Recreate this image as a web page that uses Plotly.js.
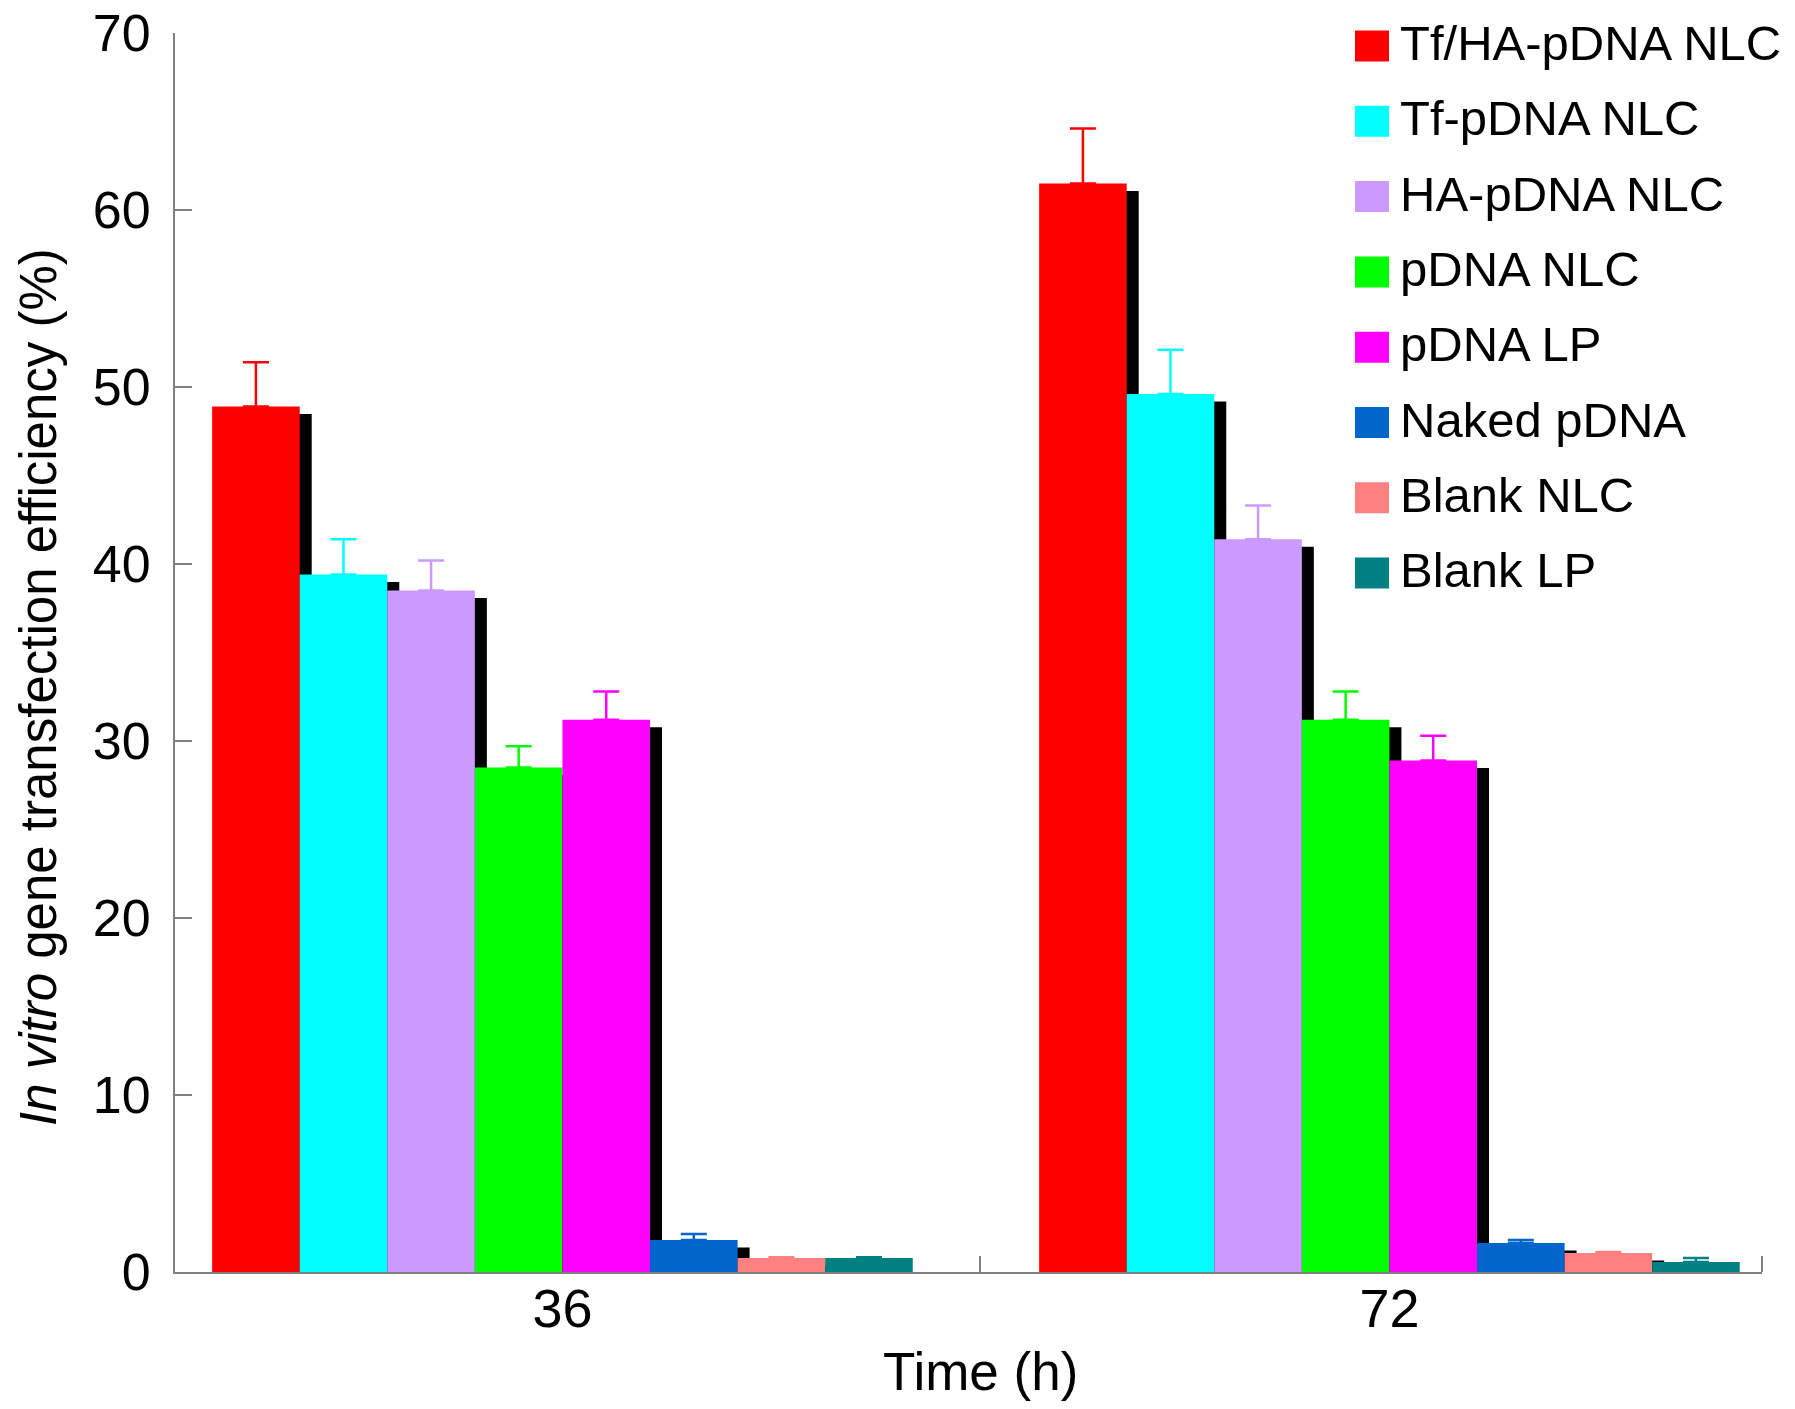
<!DOCTYPE html>
<html>
<head>
<meta charset="utf-8">
<script src="https://cdn.plot.ly/plotly-3.0.1.min.js"></script>
<style>html,body{margin:0;padding:0;background:#fff}#chart{width:1795px;height:1409px}</style>
</head>
<body>
<div id="chart"></div>
<script>
// 시간(h) 카테고리 + 제형별 형질감염 효율(%) — 그림에서 읽은 값
const TIMES = ['36', '72'];
const SERIES = ['Tf/HA-pDNA NLC', 'Tf-pDNA NLC', 'HA-pDNA NLC', 'pDNA NLC', 'pDNA LP', 'Naked pDNA', 'Blank NLC', 'Blank LP'];
const COLORS = ['#ff0000', '#00ffff', '#cc99ff', '#00ff00', '#ff00ff', '#0066cc', '#ff8080', '#008080'];
const MEAN_36 = [48.9, 39.4, 38.5, 28.5, 31.2, 1.81, 0.79, 0.79];
const MEAN_72 = [61.5, 49.6, 41.4, 31.2, 28.9, 1.64, 1.07, 0.56];
const SD_36 = [2.5, 2.0, 1.7, 1.2, 1.6, 0.34, 0.05, 0.05];
const SD_72 = [3.1, 2.5, 1.9, 1.6, 1.4, 0.17, 0.06, 0.23];

// 축/막대 배치 (x: 카테고리 중심 0, 1)
const X_RANGE = [-0.4686, 1.4504];
const BAR_W = 0.1059;
const GROUP_START = -0.4237;
const SHADOW_DX = 0.0145, SHADOW_DY = 0.42; // 검은 그림자(오른쪽·아래로 살짝)
const AXIS = '#808080';
const FONT = 'Liberation Sans, Arial, sans-serif';

// 플롯 영역 px → paper 좌표 (범례·축 제목 배치용)
const M = { l: 175, r: 33, t: 33, b: 137 };
const W = 1795, H = 1409;
const pw = W - M.l - M.r, ph = H - M.t - M.b;
const px = x => (x - M.l) / pw;
const py = y => (H - M.b - y) / ph;

const xs = TIMES.map((_, i) => i);
const traces = [];

// 그림자 먼저 (마지막 시리즈는 그림자 없음)
SERIES.slice(0, -1).forEach((name, i) => {
  traces.push({
    type: 'bar', x: xs, y: [MEAN_36[i], MEAN_72[i]], base: -SHADOW_DY,
    offset: GROUP_START + i * BAR_W + SHADOW_DX, width: BAR_W,
    marker: { color: '#000000', line: { width: 0 } },
    hoverinfo: 'skip', showlegend: false,
  });
});

SERIES.forEach((name, i) => {
  traces.push({
    type: 'bar', name, x: xs, y: [MEAN_36[i], MEAN_72[i]],
    offset: GROUP_START + i * BAR_W, width: BAR_W,
    marker: { color: COLORS[i], line: { width: 0 } },
    error_y: {
      type: 'data', symmetric: false, array: [SD_36[i], SD_72[i]], arrayminus: [0, 0],
      color: COLORS[i], thickness: 2.5, width: 13,
    },
    showlegend: false,
  });
});

// 범례: 큰 사각 견본 + 텍스트
const LEG = { swL: 1355, swR: 1389, textL: 1398, y0: 46, step: 75.3, half: 15.5 };
const shapes = SERIES.map((name, i) => {
  const yc = LEG.y0 + i * LEG.step;
  return {
    type: 'rect', xref: 'paper', yref: 'paper',
    x0: px(LEG.swL), x1: px(LEG.swR), y0: py(yc + LEG.half), y1: py(yc - LEG.half),
    fillcolor: COLORS[i], line: { width: 0 },
  };
});
const annotations = SERIES.map((name, i) => ({
  xref: 'paper', yref: 'paper', x: px(LEG.textL), y: py(LEG.y0 + i * LEG.step - 3),
  xanchor: 'left', yanchor: 'middle', text: name, showarrow: false,
  font: { size: 49, color: '#000', family: FONT },
}));
// y축 제목: 원본은 플롯 중앙보다 약간 아래
annotations.push({
  xref: 'paper', yref: 'paper', x: px(38), y: py(687), xanchor: 'center', yanchor: 'middle',
  textangle: -90, showarrow: false,
  text: '<i>In vitro</i> gene transfection efficiency (%)',
  font: { size: 51, color: '#000', family: FONT },
});
// x축 제목: 원본은 가운데 구분 눈금 근처
annotations.push({
  xref: 'paper', yref: 'paper', x: px(980), y: py(1371), xanchor: 'center', yanchor: 'middle',
  showarrow: false, text: 'Time (h)',
  font: { size: 53, color: '#000', family: FONT },
});

const layout = {
  width: W, height: H,
  margin: M,
  barmode: 'overlay',
  showlegend: false,
  paper_bgcolor: '#ffffff', plot_bgcolor: '#ffffff',
  font: { family: FONT, color: '#000000' },
  xaxis: {
    range: X_RANGE, tickvals: xs, ticktext: TIMES, ticks: '',
    showline: true, linecolor: AXIS, linewidth: 2, showgrid: false, zeroline: false,
    tickfont: { size: 54 }, ticklabelstandoff: -12,
    minor: { tickvals: [0.505, X_RANGE[1]], ticks: 'inside', ticklen: 16, tickwidth: 2, tickcolor: AXIS },
  },
  yaxis: {
    range: [0, 70], tick0: 0, dtick: 10,
    ticks: 'inside', ticklen: 17, tickwidth: 2, tickcolor: AXIS,
    showline: true, linecolor: AXIS, linewidth: 2, showgrid: false, zeroline: false,
    tickfont: { size: 52 }, ticklabelstandoff: 12,
  },
  shapes, annotations,
};

Plotly.newPlot('chart', traces, layout, { displayModeBar: false, staticPlot: true });
</script>
</body>
</html>
